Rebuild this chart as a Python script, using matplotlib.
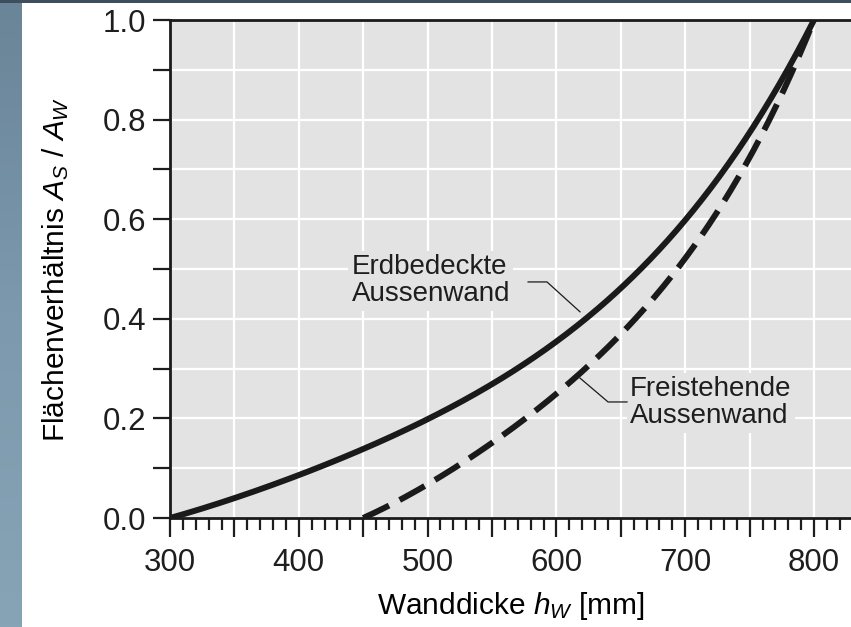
import numpy as np
import matplotlib
matplotlib.use('Agg')
import matplotlib.pyplot as plt
from matplotlib.ticker import MultipleLocator, FuncFormatter
from numpy.polynomial import polynomial as P

plt.rcParams['font.family'] = ['Liberation Sans', 'DejaVu Sans']
plt.rcParams['mathtext.fontset'] = 'custom'
plt.rcParams['mathtext.rm'] = 'Liberation Sans'
plt.rcParams['mathtext.it'] = 'Liberation Sans:italic'
plt.rcParams['text.color'] = '#1e1e1e'
plt.rcParams['xtick.color'] = '#1e1e1e'
plt.rcParams['ytick.color'] = '#1e1e1e'

# Curves
wall_thickness = [300, 350, 400, 450, 500, 550, 600, 650, 700, 750, 800]
ratio_buried = [0.0, 0.04, 0.085, 0.14, 0.2, 0.265, 0.355, 0.465, 0.595, 0.775, 1.0]
wall_thickness_free = [450, 500, 550, 600, 650, 700, 750, 800]
ratio_free = [0.0, 0.068, 0.15, 0.25, 0.37, 0.52, 0.725, 1.0]

fig = plt.figure(figsize=(8.51, 6.27), dpi=100)
fig.patch.set_facecolor('white')

# slide background strip on the left and top
bg = fig.add_axes([0, 0, 22 / 851, 1])
grad = np.linspace(0, 1, 200).reshape(-1, 1)
bg.imshow(grad, aspect='auto', cmap=matplotlib.colors.LinearSegmentedColormap.from_list(
    'bg', ['#6a8498', '#7c99ad', '#87a4b7']), origin='upper')
bg.axis('off')
top = fig.add_axes([0, 1 - 3 / 627, 1, 3 / 627])
top.set_facecolor('#3d4f5e')
top.set_xticks([])
top.set_yticks([])
for s in top.spines.values():
    s.set_visible(False)

ax = fig.add_axes([170 / 851, 109 / 627, 681 / 851, 498 / 627])
ax.set_facecolor('#e3e3e3')

# smooth the read points for drawing
xs = np.linspace(300, 800, 300)
xs2 = np.linspace(450, 800, 300)
c1 = P.polyfit(wall_thickness, ratio_buried, 4)
c2 = P.polyfit(wall_thickness_free, ratio_free, 4)
ax.plot(xs, P.polyval(xs, c1), color='#1a1a1a', lw=4.3, solid_capstyle='butt', zorder=3)
ax.plot(xs2, P.polyval(xs2, c2), color='#1a1a1a', lw=4.3, dashes=(4.8, 2.0),
        dash_capstyle='butt', zorder=3)

ax.set_xlim(300, 828.7)
ax.set_ylim(0, 1.0)

ax.xaxis.set_major_locator(MultipleLocator(50))
ax.xaxis.set_minor_locator(MultipleLocator(10))
ax.xaxis.set_major_formatter(FuncFormatter(lambda v, p: f'{v:.0f}' if round(v) % 100 == 0 else ''))
ax.yaxis.set_major_locator(MultipleLocator(0.1))
ax.yaxis.set_major_formatter(FuncFormatter(lambda v, p: f'{v:.1f}' if round(v * 10) % 2 == 0 else ''))

ax.tick_params(axis='x', which='major', direction='out', length=13.5, width=1.6, pad=8, labelsize=22.5)
ax.tick_params(axis='x', which='minor', direction='out', length=8.5, width=1.6)
ax.tick_params(axis='y', which='major', direction='out', length=12.3, width=1.6, pad=5, labelsize=22.5)

ax.grid(True, which='major', color='white', lw=1.6)
ax.set_axisbelow(True)

for side in ['left', 'bottom', 'top']:
    ax.spines[side].set_linewidth(2.0)
    ax.spines[side].set_color('#1a1a1a')
ax.spines['right'].set_visible(False)

ax.set_xlabel(r'Wanddicke $h_W$ [mm]', fontsize=21.5)
ax.xaxis.set_label_coords(0.5, -0.145)
ax.set_ylabel(r'Flächenverhältnis $A_S$ / $A_W$', fontsize=21.5)
ax.yaxis.set_label_coords(-0.145, 0.5)

box = dict(boxstyle='square,pad=0.12', facecolor='#e3e3e3', edgecolor='none')
ax.text(441, 0.476, 'Erdbedeckte\nAussenwand', fontsize=20, ha='left', va='center',
        linespacing=1.05, bbox=box, zorder=2)
ax.plot([578, 592.7, 618.3], [0.474, 0.474, 0.414], color='#1a1a1a', lw=0.9, zorder=2)

ax.text(657, 0.231, 'Freistehende\nAussenwand', fontsize=20, ha='left', va='center',
        linespacing=1.05, bbox=box, zorder=2)
ax.plot([618.3, 640.1, 654.8], [0.281, 0.233, 0.233], color='#1a1a1a', lw=0.9, zorder=2)

fig.savefig('out.png', dpi=100)
